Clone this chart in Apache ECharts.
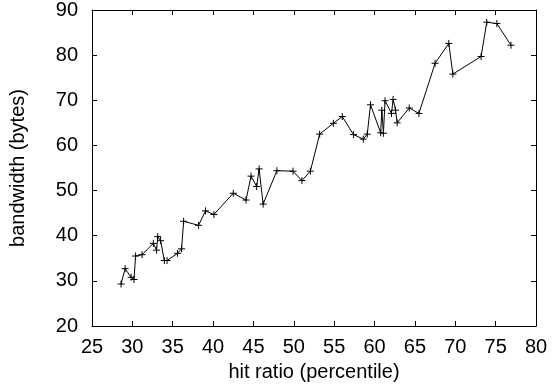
<!DOCTYPE html>
<html>
<head>
<meta charset="utf-8">
<script src="https://cdn.jsdelivr.net/npm/echarts@6/dist/echarts.min.js"></script>
<style>
  html, body { margin: 0; padding: 0; background: #fff; }
  #chart { width: 552px; height: 391px; }
</style>
</head>
<body>
<div id="chart"></div>
<script>
// hit ratio (percentile)
const hitRatio = [
  28.6, 29.1, 29.85, 30.2, 30.4, 31.2, 32.6, 33.0, 33.14, 33.5,
  33.96, 34.3, 35.6, 36.1, 36.35, 38.2, 39.06, 40.1, 42.5, 44.08,
  44.7, 45.4, 45.7, 46.2, 47.9, 49.9, 51.0, 52.05, 53.2, 54.9,
  56.0, 57.4, 58.6, 59.1, 59.5, 60.76, 60.9, 61.1, 61.3, 62.1,
  62.3, 62.6, 62.8, 64.3, 65.5, 67.5, 69.2, 69.7, 73.2, 73.9,
  75.15, 76.9
]
// bandwidth (bytes)
const bandwidth = [
  29.3, 32.7, 30.8, 30.3, 35.5, 35.8, 38.3, 36.8, 39.8, 38.9,
  34.5, 34.5, 36.1, 37.1, 43.2, 42.3, 45.5, 44.7, 49.4, 47.9,
  53.2, 50.9, 54.8, 47.0, 54.4, 54.3, 52.2, 54.3, 62.5, 64.9,
  66.4, 62.4, 61.4, 62.5, 69.0, 62.8, 67.8, 62.7, 69.9, 67.1,
  70.2, 67.8, 65.0, 68.3, 67.1, 78.2, 82.6, 75.8, 79.7, 87.3,
  87.0, 82.2
]

const xTicks = { min: 25, max: 80, interval: 5 }
const yTicks = { min: 20, max: 90, interval: 10 }

const font = 'Liberation Sans, Arial, Helvetica, sans-serif'
const plus = 'path://M0,-1L0,1M-1,0L1,0'

const points = hitRatio.map((x, i) => [x, bandwidth[i]])

const chart = echarts.init(document.getElementById('chart'))

const baseAxis = {
  type: 'value',
  axisLine: { show: true, onZero: false, lineStyle: { color: '#000', width: 1 } },
  axisTick: { show: true, inside: true, length: 5, lineStyle: { color: '#000' } },
  splitLine: { show: false },
}

const option = {
  animation: false,
  backgroundColor: '#fff',
  grid: { left: 90, right: 16, top: 10, bottom: 65 },
  xAxis: [
    {
      ...baseAxis,
      position: 'bottom',
      min: xTicks.min, max: xTicks.max, interval: xTicks.interval,
      name: 'hit ratio (percentile)',
      nameLocation: 'middle',
      nameGap: 36,
      nameTextStyle: { fontFamily: font, fontSize: 20, color: '#000' },
      axisLabel: { fontFamily: font, fontSize: 20, color: '#000', margin: 11 },
    },
    {
      ...baseAxis,
      position: 'top',
      min: xTicks.min, max: xTicks.max, interval: xTicks.interval,
      axisLabel: { show: false },
    },
  ],
  yAxis: [
    {
      ...baseAxis,
      position: 'left',
      min: yTicks.min, max: yTicks.max, interval: yTicks.interval,
      name: 'bandwidth (bytes)',
      nameLocation: 'middle',
      nameGap: 64,
      nameTextStyle: { fontFamily: font, fontSize: 20, color: '#000' },
      axisLabel: { fontFamily: font, fontSize: 20, color: '#000', margin: 14 },
    },
    {
      ...baseAxis,
      position: 'right',
      min: yTicks.min, max: yTicks.max, interval: yTicks.interval,
      axisLabel: { show: false },
    },
  ],
  series: [
    {
      type: 'line',
      data: points,
      symbol: plus,
      symbolSize: 7,
      showAllSymbol: true,
      lineStyle: { color: '#000', width: 1 },
      itemStyle: { color: 'none', borderColor: '#000', borderWidth: 1 },
    },
  ],
}

chart.setOption(option)
</script>
</body>
</html>
